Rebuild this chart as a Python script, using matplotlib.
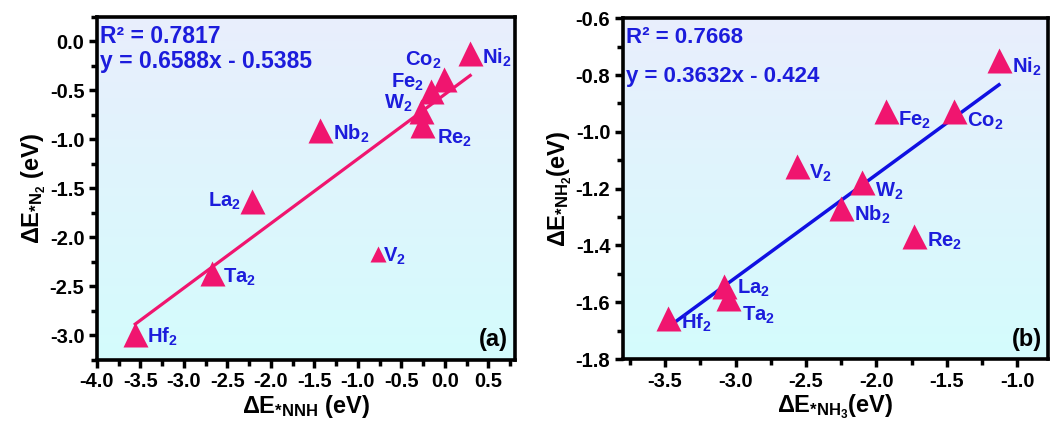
import numpy as np
import matplotlib; matplotlib.use("Agg")
import matplotlib.pyplot as plt
from matplotlib.ticker import MultipleLocator, FormatStrFormatter
from matplotlib.colors import LinearSegmentedColormap

plt.rcParams["font.family"] = ["Liberation Sans", "DejaVu Sans"]
plt.rcParams["font.weight"] = "bold"
plt.rcParams["mathtext.fontset"] = "custom"
plt.rcParams["mathtext.rm"] = "Liberation Sans:bold"
plt.rcParams["mathtext.it"] = "Liberation Sans:bold"
plt.rcParams["mathtext.bf"] = "Liberation Sans:bold"

# (a) N2 adsorption vs NNH formation
metals_a = ["Ni", "Co", "Fe", "W", "Re", "Nb", "La", "V", "Ta", "Hf"]
e_nnh = [0.29, -0.01, -0.16, -0.27, -0.26, -1.44, -2.22, -0.77, -2.68, -3.56]
e_n2 = [-0.12, -0.38, -0.51, -0.71, -0.85, -0.90, -1.63, -2.17, -2.36, -2.98]
fit_a = (0.6588, -0.5385)
r2_a = 0.7817

# (b) NH2 vs NH3
metals_b = ["Ni", "Co", "Fe", "V", "W", "Nb", "Re", "La", "Ta", "Hf"]
e_nh3 = [-1.13, -1.45, -1.93, -2.56, -2.10, -2.25, -1.73, -3.08, -3.05, -3.48]
e_nh2 = [-0.747, -0.928, -0.927, -1.122, -1.175, -1.269, -1.365, -1.541, -1.585, -1.656]
fit_b = (0.3632, -0.424)
r2_b = 0.7668

PINK = "#f0156f"
BLUE = "#1c1cdc"
LINE_B = "#1010e2"

# label offsets in pixels (dx, dy, ha)
off_a = {"Ni": (12, -5, "left"), "Co": (-3, 18, "right"), "Fe": (-7, 9, "right"),
         "W": (-9, 8, "right"), "Re": (15, -14, "left"), "Nb": (13, -4, "left"),
         "La": (-11, 0, "right"), "V": (5, -2, "left"), "Ta": (11, -5, "left"),
         "Hf": (12, -3, "left")}
off_b = {"Ni": (13, -7, "left"), "Co": (13, -10, "left"), "Fe": (12, -9, "left"),
         "V": (12, -7, "left"), "W": (13, -10, "left"), "Nb": (13, -7, "left"),
         "Re": (13, -6, "left"), "La": (13, -3, "left"), "Ta": (14, -17, "left"),
         "Hf": (13, -5, "left")}

bg = LinearSegmentedColormap.from_list("bg", ["#d4fcfc", "#e9eefd"])


def style(ax, xlim, ylim, xmaj, ymaj):
    ax.set_xlim(*xlim); ax.set_ylim(*ylim)
    ax.imshow(np.linspace(0, 1, 256).reshape(-1, 1), cmap=bg, origin="lower",
              extent=[0, 1, 0, 1], transform=ax.transAxes, aspect="auto", zorder=0)
    ax.xaxis.set_major_locator(MultipleLocator(xmaj)); ax.xaxis.set_minor_locator(MultipleLocator(xmaj / 2))
    ax.yaxis.set_major_locator(MultipleLocator(ymaj)); ax.yaxis.set_minor_locator(MultipleLocator(ymaj / 2))
    ax.xaxis.set_major_formatter(FormatStrFormatter("%.1f"))
    ax.yaxis.set_major_formatter(FormatStrFormatter("%.1f"))
    ax.tick_params(which="major", direction="out", length=6, width=2.5, labelsize=14.5, pad=3)
    ax.tick_params(which="minor", direction="out", length=4, width=2.5)
    for s in ax.spines.values():
        s.set_linewidth(2.6)


def draw(ax, names, xs, ys, offs, small=()):
    for n, x, y in zip(names, xs, ys):
        ax.plot(x, y, "^", ms=11 if n in small else 18, color=PINK, mec="none", zorder=3)
        dx, dy, ha = offs[n]
        ax.annotate(n + "$_2$", (x, y), xytext=(dx, dy), textcoords="offset pixels",
                    ha=ha, va="center", color=BLUE, fontsize=14.5, fontweight="bold", zorder=4)


fig = plt.figure(figsize=(10.61, 4.23), dpi=100)
ax1 = fig.add_axes([0.0914, 0.149, 0.3936, 0.811])
ax2 = fig.add_axes([0.587, 0.151, 0.401, 0.806])

# panel (a)
style(ax1, (-4.0, 0.8), (-3.25, 0.25), 0.5, 0.5)
xf = np.array([min(e_nnh), max(e_nnh)])
ax1.plot(xf, fit_a[0] * xf + fit_a[1], color=PINK, lw=2.3, zorder=2)
draw(ax1, metals_a, e_nnh, e_n2, off_a, small=("V",))
ax1.text(0.008, 0.975, f"R² = {r2_a}", transform=ax1.transAxes, color=BLUE,
         fontsize=16.5, fontweight="bold", va="top", ha="left", zorder=5)
ax1.text(0.008, 0.905, f"y = {fit_a[0]}x - {abs(fit_a[1])}", transform=ax1.transAxes,
         color=BLUE, fontsize=16.5, fontweight="bold", va="top", ha="left", zorder=5)
ax1.text(0.985, 0.025, "(a)", transform=ax1.transAxes, fontsize=17, fontweight="bold",
         ha="right", va="bottom", zorder=5)
ax1.set_xlabel("ΔE$_{*NNH}$ (eV)", fontsize=17, fontweight="bold", labelpad=1)
ax1.set_ylabel("ΔE$_{*N_2}$ (eV)", fontsize=17, fontweight="bold", labelpad=1)

# panel (b)
style(ax2, (-3.8, -0.78), (-1.8, -0.6), 0.5, 0.2)
xf = np.array([min(e_nh3), max(e_nh3)])
ax2.plot(xf, fit_b[0] * xf + fit_b[1], color=LINE_B, lw=2.5, zorder=2)
draw(ax2, metals_b, e_nh3, e_nh2, off_b)
ax2.text(0.008, 0.975, f"R² = {r2_b}", transform=ax2.transAxes, color=BLUE,
         fontsize=16, fontweight="bold", va="top", ha="left", zorder=5)
ax2.text(0.008, 0.86, f"y = {fit_b[0]}x - {abs(fit_b[1])}", transform=ax2.transAxes,
         color=BLUE, fontsize=16, fontweight="bold", va="top", ha="left", zorder=5)
ax2.text(0.985, 0.025, "(b)", transform=ax2.transAxes, fontsize=17, fontweight="bold",
         ha="right", va="bottom", zorder=5)
ax2.set_xlabel("ΔE$_{*NH_3}$(eV)", fontsize=17, fontweight="bold", labelpad=1)
ax2.set_ylabel("ΔE$_{*NH_2}$(eV)", fontsize=17, fontweight="bold", labelpad=1)

fig.savefig("out.png", dpi=100)
